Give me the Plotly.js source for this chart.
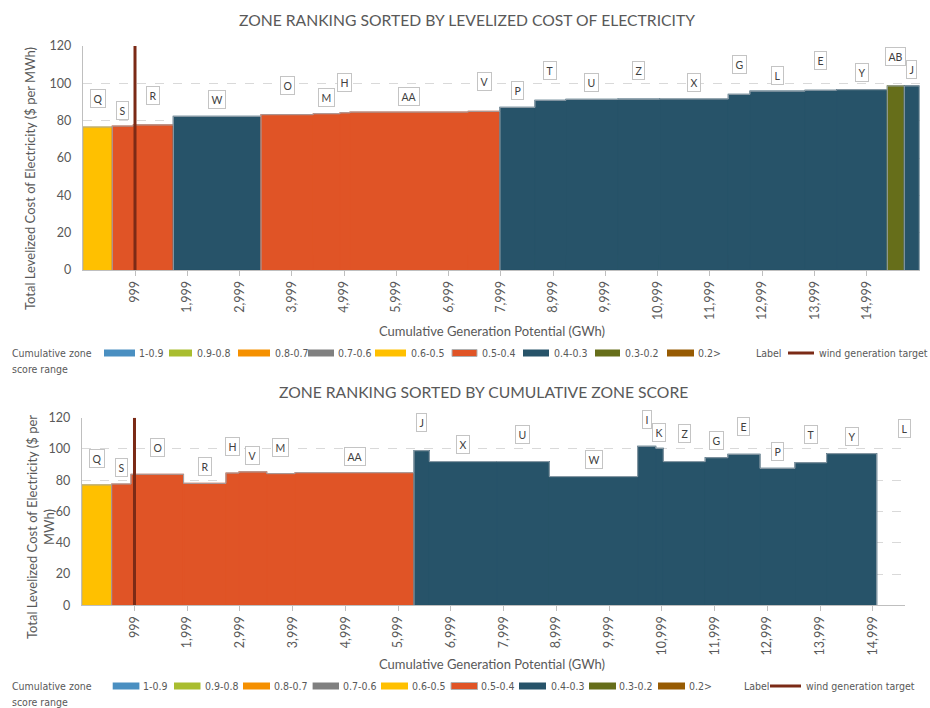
<!DOCTYPE html>
<html><head><meta charset="utf-8">
<script src="https://cdn.plot.ly/plotly-3.0.1.min.js"></script>
<style>html,body{margin:0;padding:0;background:#fff}#chart{width:930px;height:708px}</style>
</head><body><div id="chart"></div>
<script>
// ---------- DATA ----------
// Chart 1: zones sorted by levelized cost of electricity
const topZones      = ['Q','S','R','W','O','M','H','AA','V','P','T','U','Z','X','G','L','E','Y','AB','J'];
const topGeneration = [564,402,766,1678,1000,511,191,2264,606,670,593,995,796,1315,415,1052,607,968,325,287]; // GWh
const topLCOE       = [76.6,77.1,77.7,82.3,83.2,83.7,84.2,84.6,85.0,87.1,90.9,91.4,91.5,91.6,94.1,95.8,96.3,96.6,98.6,98.6];
const topScoreRange = ['0.6-0.5','0.5-0.4','0.5-0.4','0.4-0.3','0.5-0.4','0.5-0.4','0.5-0.4','0.5-0.4','0.5-0.4',
                       '0.4-0.3','0.4-0.3','0.4-0.3','0.4-0.3','0.4-0.3','0.4-0.3','0.4-0.3','0.4-0.3','0.4-0.3','0.3-0.2','0.4-0.3'];
const topLabelY     = [92.0,85.7,93.4,91.1,98.7,92.5,100.3,93.2,100.9,96.4,106.8,100.3,107.1,100.3,110.2,104.4,112.1,105.7,114.6,107.5];

// Chart 2: zones sorted by cumulative zone score
const botZones      = ['Q','S','O','R','H','V','M','AA','J','X','U','W','I','K','Z','G','E','P','T','Y','L'];
const botGeneration = [567,366,995,806,247,525,536,2257,290,1277,998,1676,341,144,796,430,607,664,601,948,1050]; // GWh
const botLCOE       = [77.0,77.6,83.8,78.0,84.6,85.3,84.2,84.8,98.9,91.9,91.9,82.3,101.7,100.4,91.9,94.4,96.6,87.6,91.2,97.0,null];
const botScoreRange = ['0.6-0.5','0.5-0.4','0.5-0.4','0.5-0.4','0.5-0.4','0.5-0.4','0.5-0.4','0.5-0.4',
                       '0.4-0.3','0.4-0.3','0.4-0.3','0.4-0.3','0.4-0.3','0.4-0.3','0.4-0.3','0.4-0.3','0.4-0.3','0.4-0.3','0.4-0.3','0.4-0.3',null];
const botLabelY     = [94.0,88.0,101.1,88.5,101.9,95.7,101.1,95.1,116.8,102.6,109.0,93.0,119.0,110.7,109.6,105.1,114.1,98.3,109.0,107.7,113.0];

const windTarget = 999; // GWh
const scoreRanges = ['1-0.9','0.9-0.8','0.8-0.7','0.7-0.6','0.6-0.5','0.5-0.4','0.4-0.3','0.3-0.2','0.2>'];
const xTickVals = [999,1999,2999,3999,4999,5999,6999,7999,8999,9999,10999,11999,12999,13999,14999];
const yMax = 120;

// ---------- STYLE ----------
const rangeColors = {'1-0.9':'#4A8FC1','0.9-0.8':'#A9BD2F','0.8-0.7':'#F59000','0.7-0.6':'#808080','0.6-0.5':'#FFC000',
                     '0.5-0.4':'#E05426','0.4-0.3':'#275369','0.3-0.2':'#666E1A','0.2>':'#975B03'};
const FONT = 'Lato, Carlito, "Open Sans", sans-serif';
const NARROW = '"Liberation Sans Narrow", "DejaVu Sans Condensed", sans-serif';
const GREY = '#595959';
const OUTLINE = 'rgba(155,166,176,0.95)';
const W = 930, H = 708;
const px = x => x / W, py = y => 1 - y / H;

function cumulative(gen){
  const start = []; let s = 0;
  gen.forEach(g => { start.push(s); s += g; });
  return start;
}
function barTrace(gen, vals, ranges, xa, ya){
  const st = cumulative(gen);
  const cols = ranges.map(r => r ? rangeColors[r] : 'rgba(0,0,0,0)');
  return {type:'bar', xaxis:xa, yaxis:ya, x: st.map((s,i)=>s+gen[i]/2), width: gen, y: vals, base: 0,
          marker:{color: cols, line:{width:1.2, color: cols}},
          showlegend:false, hoverinfo:'skip'};
}
// outline of the areas: outer contour plus vertical edges where the score range changes
function outlineTrace(gen, vals, ranges, xa, ya){
  const st = cumulative(gen);
  const n = vals.filter(v => v !== null).length;
  const X = [0], Y = [0];
  for(let i=0;i<n;i++){ X.push(st[i], st[i]+gen[i]); Y.push(vals[i], vals[i]); }
  X.push(st[n-1]+gen[n-1]); Y.push(0);
  for(let i=0;i<n-1;i++){
    if(ranges[i] !== ranges[i+1]){
      const e = st[i]+gen[i];
      X.push(null, e, e); Y.push(null, 0, Math.min(vals[i], vals[i+1]));
    }
  }
  return {type:'scatter', mode:'lines', xaxis:xa, yaxis:ya, x:X, y:Y, connectgaps:false,
          line:{color:OUTLINE, width:1}, showlegend:false, hoverinfo:'skip'};
}
function windTrace(xa, ya){
  return {type:'scatter', mode:'lines', xaxis:xa, yaxis:ya, x:[windTarget, windTarget], y:[0, yMax],
          line:{color:'#7B2A16', width:3}, showlegend:false, hoverinfo:'skip'};
}
function labelAnns(zones, gen, ly, xr, yr){
  const st = cumulative(gen);
  return zones.map((z,i)=>({x: st[i]+gen[i]/2, y: ly[i], xref:xr, yref:yr, text:z, showarrow:false,
    xanchor:'center', yanchor:'middle', bgcolor:'#ffffff', bordercolor:'#c4c4c4', borderwidth:1, borderpad:2.5,
    font:{family:FONT, size:10.5, color:'#404040'}}));
}
const tickText = xTickVals.map(v => v.toLocaleString('en-US'));
function xAxis(d0, d1, maxX, anchor){
  return {domain:[px(d0), px(d1)], range:[0, maxX], anchor:anchor, tickmode:'array', tickvals:xTickVals, ticktext:tickText,
          tickangle:-90, ticks:'outside', ticklen:5, tickcolor:'#bfbfbf', showline:true, linecolor:'#bfbfbf', linewidth:1,
          showgrid:false, zeroline:false, automargin:false, tickfont:{family:FONT, size:12.5, color:GREY}};
}
function yAxis(top, bottom, anchor){
  return {domain:[py(bottom), py(top)], range:[0, yMax], anchor:anchor, dtick:20, showgrid:true, gridcolor:'#d9d9d9',
          griddash:'dash', gridwidth:1, showline:true, linecolor:'#bfbfbf', zeroline:false, ticks:'', automargin:false,
          ticklabelstandoff:8, tickfont:{family:FONT, size:12.5, color:GREY}};
}

const data = [
  barTrace(topGeneration, topLCOE, topScoreRange, 'x', 'y'),
  outlineTrace(topGeneration, topLCOE, topScoreRange, 'x', 'y'),
  windTrace('x','y'),
  barTrace(botGeneration, botLCOE, botScoreRange, 'x2', 'y2'),
  outlineTrace(botGeneration, botLCOE, botScoreRange, 'x2', 'y2'),
  windTrace('x2','y2')
];

const annotations = [].concat(
  labelAnns(topZones, topGeneration, topLabelY, 'x', 'y'),
  labelAnns(botZones, botGeneration, botLabelY, 'x2', 'y2')
);
function paperText(text, x, y, size, opts){
  return Object.assign({text, x:px(x), y:py(y), xref:'paper', yref:'paper', showarrow:false, xanchor:'center', yanchor:'middle',
    font:{family:FONT, size:size, color:GREY}}, opts||{});
}
annotations.push(
  paperText('ZONE RANKING SORTED BY LEVELIZED COST OF ELECTRICITY', 467, 20, 15.7),
  paperText('ZONE RANKING SORTED BY CUMULATIVE ZONE SCORE', 483, 392, 15.7),
  paperText('Total Levelized Cost of Electricity ($ per MWh)', 30, 179, 13, {textangle:-90}),
  paperText('Total Levelized Cost of Electricity ($ per<br>MWh)', 40, 527, 13, {textangle:-90}),
  paperText('Cumulative Generation Potential (GWh)', 492, 331, 13),
  paperText('Cumulative Generation Potential (GWh)', 492, 664, 13)
);

const shapes = [];
const LS = 10.5;
const LF = {family:NARROW, size:LS, color:GREY};
function legend(rowY, boxes, textX, labelX, lineX, windX){
  annotations.push(paperText('Cumulative zone', 10, rowY, LS, {xanchor:'left', font:LF}));
  annotations.push(paperText('score range', 10, rowY+16, LS, {xanchor:'left', font:LF}));
  scoreRanges.forEach((r,i)=>{
    shapes.push({type:'rect', xref:'paper', yref:'paper', x0:px(boxes[i][0]), x1:px(boxes[i][1]), y0:py(rowY+3.5), y1:py(rowY-3.5),
      fillcolor:rangeColors[r], line:{width: r==='0.5-0.4'?1:0, color:'#b0b0b0'}});
    annotations.push(paperText(r, textX[i], rowY, LS, {xanchor:'left', font:LF}));
  });
  annotations.push(paperText('Label', labelX, rowY, LS, {xanchor:'left', font:LF}));
  shapes.push({type:'line', xref:'paper', yref:'paper', x0:px(lineX[0]), x1:px(lineX[1]), y0:py(rowY), y1:py(rowY),
    line:{color:'#7B2A16', width:3}});
  annotations.push(paperText('wind generation target', windX, rowY, LS, {xanchor:'left', font:LF}));
}
legend(353, [[104,135],[169,192],[238,270],[308,334],[375,406],[452,477],[523,549],[595,620],[667,694]],
       [137,195,273,336,409,480,552,623,696], 754, [788,814], 817);
legend(686, [[112.7,139.4],[174,200.5],[243,270],[312.6,339],[381,408],[451,477.5],[519,546],[589,616],[658,685]],
       [141,203,272,341,410,479,548.6,617,687], 742, [770,801], 804);

const layout = {
  width:W, height:H, margin:{l:0,r:0,t:0,b:0}, paper_bgcolor:'#ffffff', plot_bgcolor:'#ffffff',
  barmode:'overlay', showlegend:false,
  xaxis: xAxis(82.8, 919.5, 16009, 'y'),
  yaxis: yAxis(46, 270, 'x'),
  xaxis2: xAxis(81.8, 905, 15608, 'y2'),
  yaxis2: yAxis(417.7, 605.3, 'x2'),
  annotations, shapes
};
Plotly.newPlot('chart', data, layout, {displayModeBar:false, staticPlot:true});
</script>
</body></html>
